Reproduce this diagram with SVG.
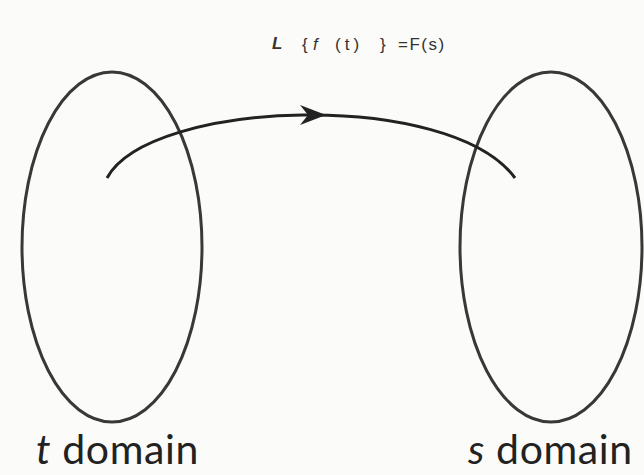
<svg xmlns="http://www.w3.org/2000/svg" width="644" height="475" viewBox="0 0 644 475">
<style>
.dom{fill:none;stroke:#383838;stroke-width:3}
.con{fill:none;stroke:#222;stroke-width:3}
.lbl{font-family:Lato,"Open Sans",sans-serif;font-size:41px;letter-spacing:0.6px;fill:#222}
.eq{font-family:"Liberation Sans",Arial,sans-serif;fill:#333;font-size:17px}
</style>
<rect width="644" height="475" fill="#fbfbf9"/>
<g id="t-domain">
<ellipse class="dom" cx="112" cy="247" rx="90" ry="175"/>
<text class="lbl" x="36" y="464"><tspan font-style="italic">t</tspan> domain</text>
</g>
<g id="s-domain">
<ellipse class="dom" cx="551" cy="247" rx="91" ry="175"/>
<text class="lbl" x="468" y="464"><tspan font-style="italic">s</tspan> domain</text>
</g>
<g id="connectors">
<path class="con" d="M107,178 C150,99 450,89 515,178"/>
<path d="M326,115 L300,105 L308,115 L300,125 Z" fill="#222"/>
</g>
<g id="label">
<text class="eq" x="272" y="49" font-size="22" font-weight="bold" font-style="italic">L</text>
<text class="eq" x="302" y="50">{</text>
<text class="eq" x="313" y="50" font-style="italic" font-size="19">f</text>
<text class="eq" x="335" y="50" letter-spacing="4">(t)</text>
<text class="eq" x="380" y="50">}</text>
<text class="eq" x="398" y="50" font-size="15" letter-spacing="1.5">=F(s)</text>
</g>
</svg>
